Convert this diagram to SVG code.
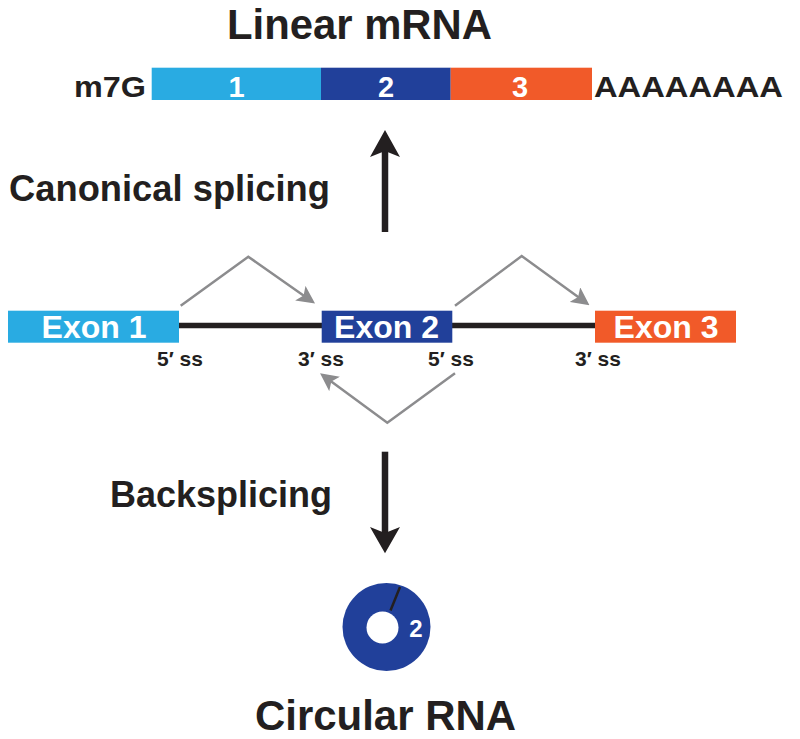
<svg xmlns="http://www.w3.org/2000/svg" width="800" height="739" viewBox="0 0 800 739">
<style>
text{font-family:"Liberation Sans",Arial,sans-serif;font-weight:bold;}
.blk{fill:#231f20;}
.wht{fill:#ffffff;}
.title{font-size:42px;}
.lbl{font-size:37px;}
.ex{font-size:32px;text-anchor:middle;}
.ss{font-size:21px;}
.dig{font-size:29px;text-anchor:middle;}
.lb{fill:#29abe2;}
.db{fill:#21409a;}
.or{fill:#f15a29;}
.gray{fill:none;stroke:#8c8c8e;stroke-width:2.5;stroke-linejoin:miter;}
.intron{stroke:#231f20;stroke-width:5.5;}
</style>
<defs>
<marker id="gh" markerUnits="userSpaceOnUse" viewBox="0 0 18 18" refX="10" refY="9" markerWidth="18" markerHeight="18" orient="auto">
<path d="M0,0 L18,9 L0,18 L4,9 Z" fill="#8c8c8e"/>
</marker>
</defs>
<rect width="800" height="739" fill="#ffffff"/>

<g id="linear-mrna">
<text class="title blk" x="227" y="39" textLength="265" lengthAdjust="spacingAndGlyphs">Linear mRNA</text>
<text class="blk" x="74" y="97" font-size="30" textLength="72" lengthAdjust="spacingAndGlyphs">m7G</text>
<rect class="lb" x="151.7" y="67.7" width="169.3" height="32.3"/>
<rect class="db" x="321" y="67.7" width="129.7" height="32.3"/>
<rect class="or" x="450.7" y="67.7" width="141.3" height="32.3"/>
<text class="dig wht" x="236.5" y="96.5">1</text>
<text class="dig wht" x="386" y="96.5">2</text>
<text class="dig wht" x="520" y="96.5">3</text>
<text class="blk" x="594" y="97" font-size="30" textLength="189" lengthAdjust="spacingAndGlyphs">AAAAAAAA</text>
</g>

<g id="canonical-label">
<text class="lbl blk" x="9" y="201" textLength="321" lengthAdjust="spacingAndGlyphs">Canonical splicing</text>
</g>
<g id="backsplicing-label">
<text class="lbl blk" x="110" y="507" font-size="36" textLength="222" lengthAdjust="spacingAndGlyphs">Backsplicing</text>
</g>

<g id="pre-mrna">
<line class="intron" x1="178" y1="325.5" x2="322" y2="325.5"/>
<line class="intron" x1="452" y1="325.5" x2="596" y2="325.5"/>
<g id="exon1">
<rect class="lb" x="8" y="310.7" width="171" height="32"/>
<text class="ex wht" x="94" y="338.3">Exon 1</text>
</g>
<g id="exon2">
<rect class="db" x="321.7" y="310.7" width="130.6" height="32"/>
<text class="ex wht" x="386.5" y="338.3">Exon 2</text>
</g>
<g id="exon3">
<rect class="or" x="595" y="310.7" width="141" height="32"/>
<text class="ex wht" x="666" y="338.3">Exon 3</text>
</g>
<text class="ss blk" x="157" y="366">5′ ss</text>
<text class="ss blk" x="298" y="366">3′ ss</text>
<text class="ss blk" x="428" y="366">5′ ss</text>
<text class="ss blk" x="575" y="366">3′ ss</text>
</g>

<g id="circular-rna">
<circle cx="386.5" cy="627" r="44" fill="#21409a"/>
<circle cx="382.5" cy="627.5" r="16" fill="#ffffff"/>
<line x1="400" y1="587" x2="390.5" y2="610.5" stroke="#231f20" stroke-width="2.5"/>
<text class="wht" x="416" y="637" font-size="24" text-anchor="middle">2</text>
<text class="blk" x="255" y="730" font-size="43" textLength="261" lengthAdjust="spacingAndGlyphs">Circular RNA</text>
</g>

<g id="connectors">
<polyline class="gray" points="180.7,305.7 248.3,256.7 308.5,299" marker-end="url(#gh)"/>
<polyline class="gray" points="455,305.7 521.7,256 583,300.5" marker-end="url(#gh)"/>
<polyline class="gray" points="455,373.3 387.3,422.7 326.5,378" marker-end="url(#gh)"/>
<line x1="385" y1="232" x2="385" y2="150" stroke="#231f20" stroke-width="6.5"/>
<path d="M385,130 L400,157 L385,151 L370,157 Z" fill="#231f20"/>
<line x1="385" y1="451.7" x2="385" y2="533" stroke="#231f20" stroke-width="6.5"/>
<path d="M385,553.3 L400,527 L385,533 L370,527 Z" fill="#231f20"/>
</g>
</svg>
